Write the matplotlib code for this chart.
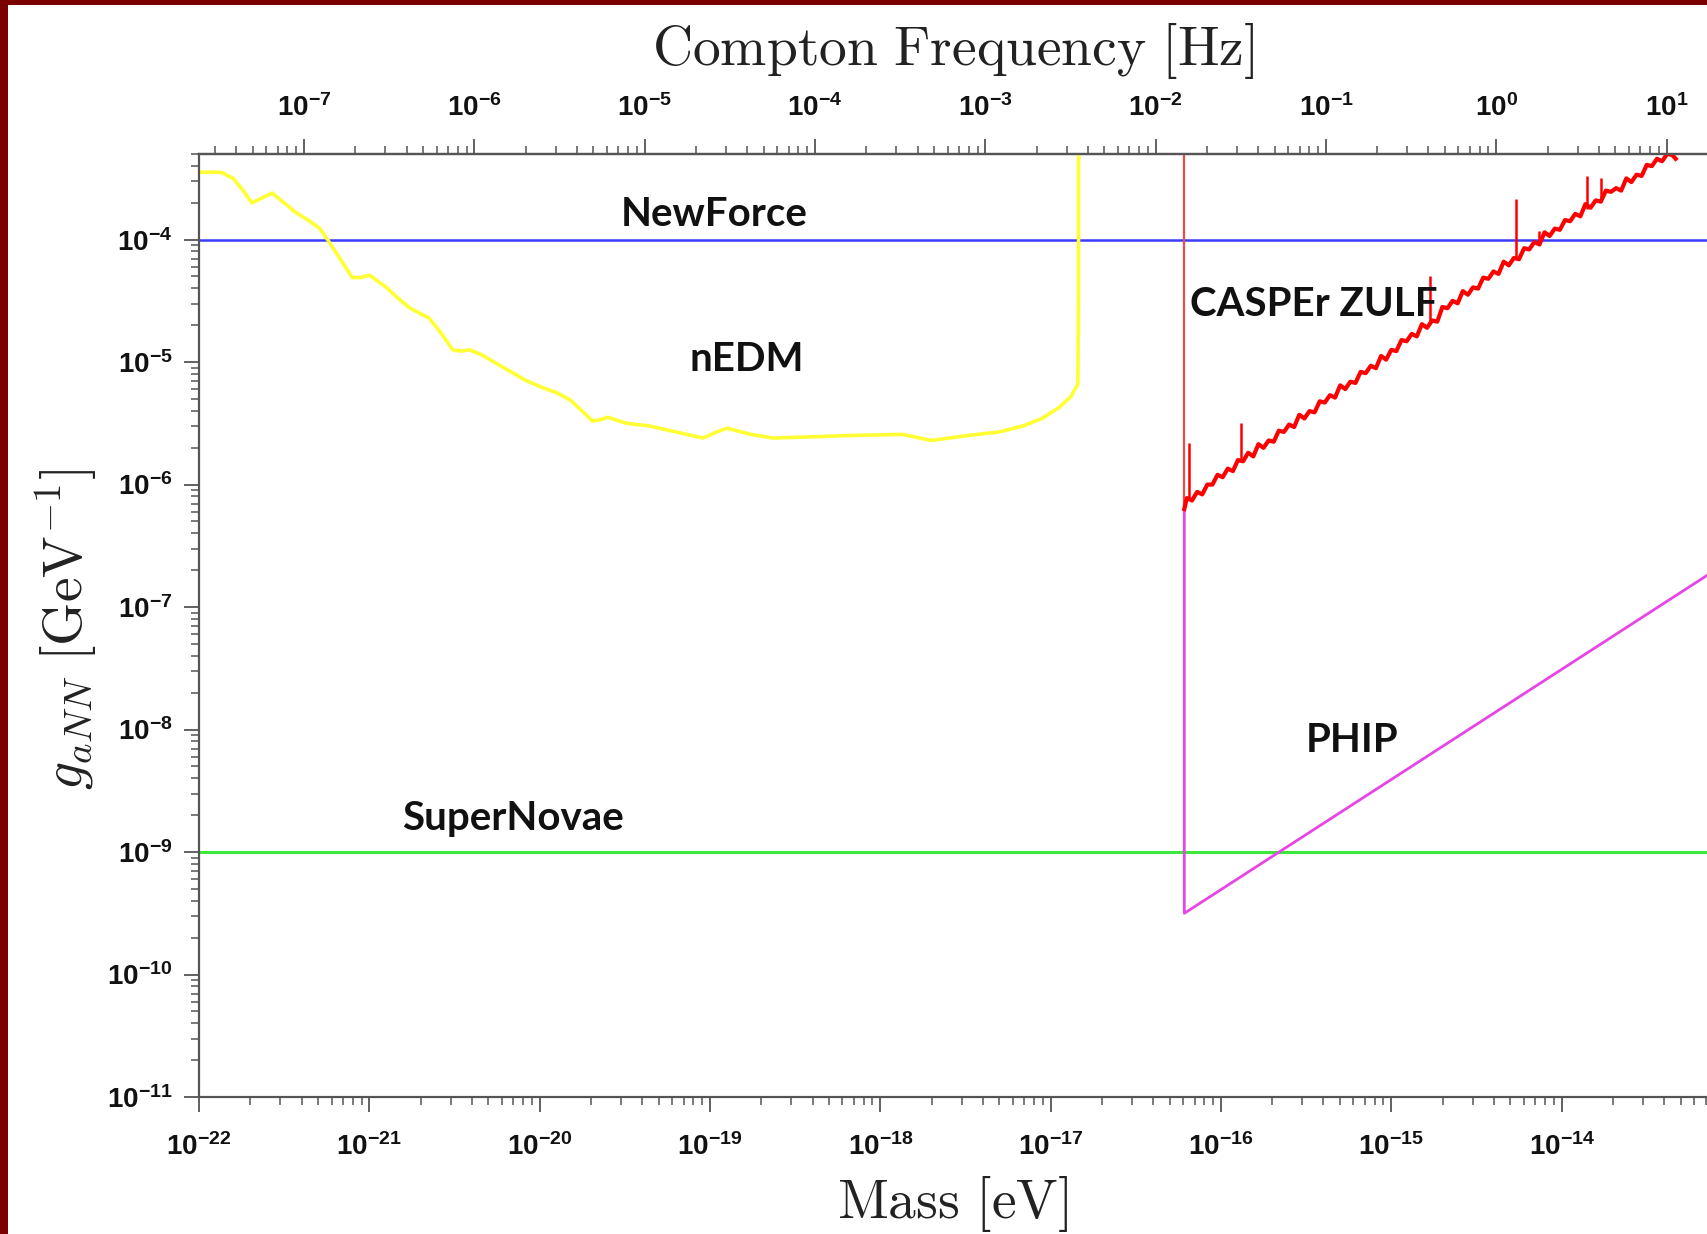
import numpy as np
import matplotlib
matplotlib.use("Agg")
import matplotlib.pyplot as plt
from matplotlib.patches import Rectangle
from matplotlib.ticker import LogLocator, NullFormatter, FixedLocator

# fonts: bold Arial-like tick labels, Computer Modern for axis titles
plt.rcParams['font.family'] = 'Liberation Sans'
plt.rcParams['font.weight'] = 'bold'
plt.rcParams['mathtext.fontset'] = 'custom'
plt.rcParams['mathtext.rm'] = 'Liberation Sans:bold'
plt.rcParams['mathtext.it'] = 'Liberation Sans:italic:bold'
plt.rcParams['mathtext.bf'] = 'Liberation Sans:bold'

############################################################
#                         DATA                             #
############################################################
# all values as log10 (mass in eV, coupling in GeV^-1)

EV_TO_HZ = 2.417989e14  # Compton frequency per eV

mass_decades = [-22, -21, -20, -19, -18, -17, -16, -15, -14]
freq_decades = [-7, -6, -5, -4, -3, -2, -1, 0, 1]

newforce_limit = 1e-4
supernova_limit = 1e-9

# nEDM exclusion curve (yellow)
nedm_logm = [-22.00, -21.92, -21.87, -21.80, -21.74, -21.69, -21.63, -21.57,
             -21.50, -21.43, -21.36, -21.29, -21.245, -21.17, -21.10, -21.05,
             -21.00, -20.90, -20.83, -20.76, -20.65, -20.58, -20.51, -20.46,
             -20.41, -20.34, -20.28, -20.18, -20.08, -19.98, -19.90, -19.82,
             -19.75, -19.69, -19.64, -19.60, -19.49, -19.36, -19.20, -19.04,
             -18.96, -18.90, -18.76, -18.63, -18.40, -18.20, -17.87, -17.70,
             -17.49, -17.30, -17.16, -17.05, -16.95, -16.88, -16.84, -16.836,
             -16.836]
nedm_logg = [-3.45, -3.45, -3.45, -3.50, -3.60, -3.70, -3.66, -3.62,
             -3.70, -3.78, -3.84, -3.91, -4.00, -4.16, -4.31, -4.31,
             -4.29, -4.39, -4.48, -4.56, -4.64, -4.76, -4.90, -4.91,
             -4.90, -4.94, -4.99, -5.07, -5.15, -5.21, -5.25, -5.31,
             -5.40, -5.48, -5.47, -5.45, -5.50, -5.52, -5.57, -5.62,
             -5.57, -5.54, -5.59, -5.62, -5.61, -5.60, -5.59, -5.64,
             -5.60, -5.57, -5.52, -5.46, -5.37, -5.28, -5.18, -4.50,
             -3.20]

# CASPEr ZULF (red, noisy)
casper_edge_logm = -16.215
casper_logm = [-16.215, -16.20, -16.17, -16.14, -16.11, -16.08, -16.05, -16.02,
               -15.99, -15.96, -15.93, -15.90, -15.87, -15.84, -15.81, -15.78,
               -15.75, -15.72, -15.69, -15.66, -15.63, -15.60, -15.57, -15.54,
               -15.51, -15.48, -15.45, -15.42, -15.39, -15.36, -15.33, -15.30,
               -15.27, -15.24, -15.21, -15.18, -15.15, -15.12, -15.09, -15.06,
               -15.03, -15.00, -14.97, -14.94, -14.91, -14.88, -14.85, -14.82,
               -14.79, -14.76, -14.73, -14.70, -14.67, -14.64, -14.61, -14.58,
               -14.55, -14.52, -14.49, -14.46, -14.43, -14.40, -14.37, -14.34,
               -14.31, -14.28, -14.25, -14.22, -14.19, -14.16, -14.13, -14.10,
               -14.07, -14.04, -14.01, -13.98, -13.95, -13.92, -13.89, -13.86,
               -13.83, -13.80, -13.77, -13.74, -13.71, -13.68, -13.65, -13.62,
               -13.59, -13.56, -13.53, -13.50, -13.47, -13.44, -13.41, -13.38,
               -13.35, -13.33]
casper_logg = [-6.20, -6.11, -6.13, -6.06, -6.08, -6.00, -6.00, -5.92,
               -5.94, -5.87, -5.89, -5.80, -5.81, -5.74, -5.77, -5.67,
               -5.70, -5.64, -5.65, -5.56, -5.57, -5.51, -5.53, -5.43,
               -5.46, -5.40, -5.41, -5.32, -5.33, -5.27, -5.29, -5.19,
               -5.22, -5.16, -5.17, -5.08, -5.09, -5.03, -5.05, -4.95,
               -4.98, -4.90, -4.91, -4.82, -4.83, -4.77, -4.79, -4.69,
               -4.72, -4.66, -4.67, -4.55, -4.56, -4.50, -4.52, -4.42,
               -4.45, -4.39, -4.40, -4.31, -4.32, -4.26, -4.28, -4.18,
               -4.21, -4.15, -4.16, -4.07, -4.08, -4.02, -4.04, -3.94,
               -3.97, -3.91, -3.92, -3.84, -3.85, -3.79, -3.81, -3.71,
               -3.74, -3.68, -3.69, -3.60, -3.61, -3.58, -3.60, -3.50,
               -3.53, -3.47, -3.48, -3.39, -3.40, -3.34, -3.36, -3.30,
               -3.31, -3.34]
# narrow spikes on the CASPEr curve: position, base, tip
spike_logm = [-16.19, -15.88, -14.77, -14.27, -14.13, -13.85, -13.77]
spike_base = [-6.12, -5.80, -4.68, -4.15, -4.03, -3.75, -3.69]
spike_tip = [-5.66, -5.50, -4.30, -3.67, -3.93, -3.48, -3.50]

# PHIP (magenta)
phip_logm = [-16.215, -16.215, -13.0]
phip_logg = [-6.18, -9.50, -6.61]

# labels: text, log m (left edge), log g (baseline)
label_text = ['NewForce', 'nEDM', 'CASPEr ZULF', 'PHIP', 'SuperNovae']
label_logm = [-19.525, -19.12, -16.18, -15.50, -20.805]
label_logg = [-3.89, -5.07, -4.62, -8.18, -8.82]

############################################################
#                        PLOT                              #
############################################################

W, H = 1708, 1234
fig = plt.figure(figsize=(W / 100, H / 100), dpi=100)
fig.patch.set_facecolor('#7b0000')
fig.patches.append(Rectangle((8 / W, 0), 1, 1 - 5 / H, transform=fig.transFigure,
                             facecolor='white', edgecolor='none', zorder=-10))

ax = fig.add_axes([0.1165, 0.111, 0.8975, 0.7642])
ax.set_facecolor('white')
ax.set_xscale('log')
ax.set_yscale('log')
ax.set_xlim(1e-22, 1e-13)
ax.set_ylim(1e-11, 5e-4)

p10 = lambda v: np.power(10.0, np.array(v, dtype=float))

ax.axhline(newforce_limit, color='#3b3bff', lw=1.8)
ax.axhline(supernova_limit, color='#3ce83c', lw=2.2)

ax.plot(p10(nedm_logm), p10(nedm_logg), color='#ffff33', lw=2.6)

ax.plot(p10([casper_edge_logm, casper_edge_logm]), p10([casper_logg[0], -3.2]),
        color='#ee4a4a', lw=1.6)
ax.plot(p10(phip_logm), p10(phip_logg), color='#e646e6', lw=2.0)
ax.plot(p10(casper_logm), p10(casper_logg), color='#ff0000', lw=3.0)
ax.vlines(p10(spike_logm), p10(spike_base), p10(spike_tip), color='#ff0000', lw=1.8)

for t, lm, lg in zip(label_text, label_logm, label_logg):
    ax.text(10 ** lm, 10 ** lg, t, ha='left', va='baseline', fontsize=29,
            family='Lato', fontweight='bold', color='#111111')

# axes styling
spine_c = '#555555'
for side in ['left', 'bottom', 'top']:
    ax.spines[side].set_color(spine_c)
    ax.spines[side].set_linewidth(1.6)
ax.spines['right'].set_visible(False)

ax.xaxis.set_major_locator(FixedLocator(p10(mass_decades)))
ax.xaxis.set_minor_locator(LogLocator(base=10, subs=np.arange(2, 10), numticks=200))
ax.xaxis.set_minor_formatter(NullFormatter())
ax.yaxis.set_major_locator(LogLocator(base=10, numticks=20))
ax.yaxis.set_minor_locator(LogLocator(base=10, subs=np.arange(2, 10), numticks=200))
ax.yaxis.set_minor_formatter(NullFormatter())

ax.tick_params(axis='both', which='both', direction='out', color=spine_c,
               labelcolor='#111111', top=False, right=False)
ax.tick_params(axis='both', which='major', length=11, width=1.3, labelsize=20)
ax.tick_params(axis='both', which='minor', length=6, width=1.1)
ax.tick_params(axis='x', which='major', pad=15)
ax.tick_params(axis='y', which='major', pad=8)

top = ax.secondary_xaxis('top', functions=(lambda m: m * EV_TO_HZ,
                                            lambda f: f / EV_TO_HZ))
top.spines['top'].set_color(spine_c)
top.spines['top'].set_linewidth(1.6)
top.xaxis.set_major_locator(FixedLocator(p10(freq_decades)))
top.xaxis.set_minor_locator(LogLocator(base=10, subs=np.arange(2, 10), numticks=200))
top.xaxis.set_minor_formatter(NullFormatter())
top.tick_params(axis='x', which='both', direction='out', color=spine_c, labelcolor='#111111')
top.tick_params(axis='x', which='major', length=11, width=1.3, labelsize=20, pad=12)
top.tick_params(axis='x', which='minor', length=6, width=1.1)

# axis titles
fig.text(0.558, 0.947, r'$\mathrm{Compton\ Frequency\ [Hz]}$', ha='center', va='baseline',
         fontsize=40, math_fontfamily='cm', color='#222222')
fig.text(0.558, 0.013, r'$\mathrm{Mass\ [eV]}$', ha='center', va='baseline',
         fontsize=40, math_fontfamily='cm', color='#222222')
fig.text(0.039, 0.49, r'$g_{aNN}\ [\mathrm{GeV}^{-1}]$', ha='center', va='center',
         rotation=90, fontsize=40, math_fontfamily='cm', color='#222222')

fig.savefig('out.png', dpi=100, facecolor=fig.get_facecolor())
